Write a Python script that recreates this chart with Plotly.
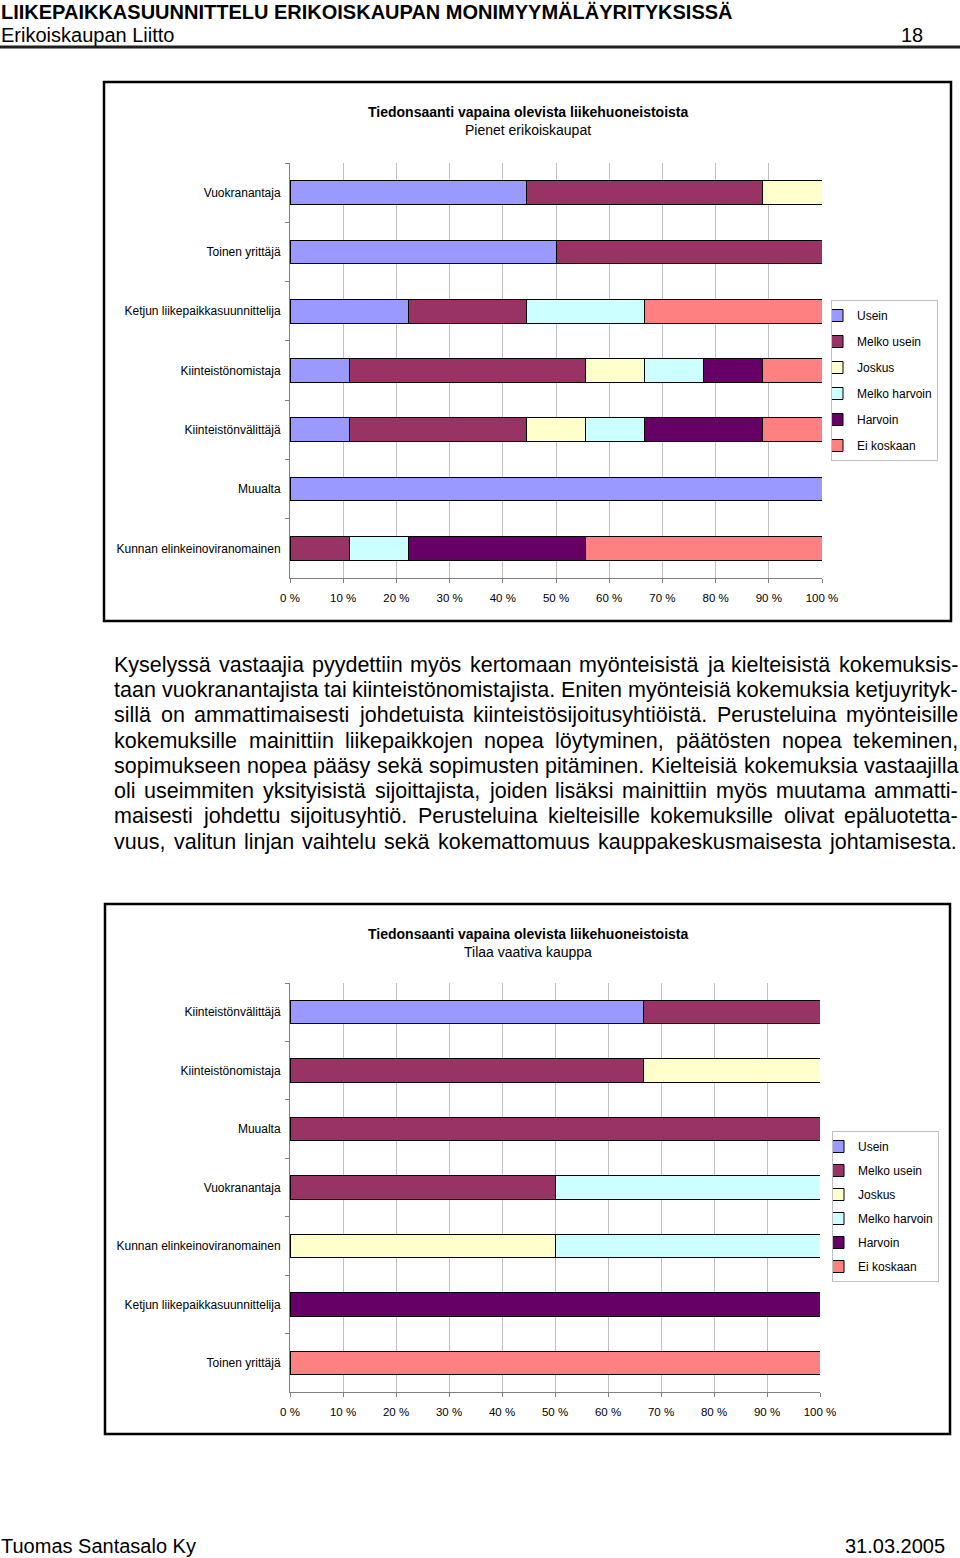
import plotly.graph_objects as go

W, H = 960, 1558

# ---------------- data ----------------
series_names = ["Usein", "Melko usein", "Joskus", "Melko harvoin", "Harvoin", "Ei koskaan"]
series_colors = ["#9999FF", "#993366", "#FFFFCC", "#CCFFFF", "#660066", "#FF8080"]

categories_1 = ["Vuokranantaja", "Toinen yrittäjä", "Ketjun liikepaikkasuunnittelija",
                "Kiinteistönomistaja", "Kiinteistönvälittäjä", "Muualta",
                "Kunnan elinkeinoviranomainen"]
usein_1         = [44.4, 50.0, 22.2, 11.1, 11.1, 100.0, 0]
melko_usein_1   = [44.5, 50.0, 22.2, 44.5, 33.3, 0, 11.1]
joskus_1        = [11.1, 0, 0, 11.1, 11.1, 0, 0]
melko_harvoin_1 = [0, 0, 22.2, 11.1, 11.1, 0, 11.1]
harvoin_1       = [0, 0, 0, 11.1, 22.3, 0, 33.3]
ei_koskaan_1    = [0, 0, 33.4, 11.1, 11.1, 0, 44.5]

categories_2 = ["Kiinteistönvälittäjä", "Kiinteistönomistaja", "Muualta", "Vuokranantaja",
                "Kunnan elinkeinoviranomainen", "Ketjun liikepaikkasuunnittelija",
                "Toinen yrittäjä"]
usein_2         = [66.7, 0, 0, 0, 0, 0, 0]
melko_usein_2   = [33.3, 66.7, 100.0, 50.0, 0, 0, 0]
joskus_2        = [0, 33.3, 0, 0, 50.0, 0, 0]
melko_harvoin_2 = [0, 0, 0, 50.0, 50.0, 0, 0]
harvoin_2       = [0, 0, 0, 0, 0, 100.0, 0]
ei_koskaan_2    = [0, 0, 0, 0, 0, 0, 100.0]

tick_values = [0, 10, 20, 30, 40, 50, 60, 70, 80, 90, 100]
tick_labels = ["0 %", "10 %", "20 %", "30 %", "40 %", "50 %", "60 %", "70 %", "80 %", "90 %", "100 %"]

header_title = "LIIKEPAIKKASUUNNITTELU ERIKOISKAUPAN MONIMYYMÄLÄYRITYKSISSÄ"
header_sub = "Erikoiskaupan Liitto"
page_number = "18"
chart_title = "Tiedonsaanti vapaina olevista liikehuoneistoista"
chart1_sub = "Pienet erikoiskaupat"
chart2_sub = "Tilaa vaativa kauppa"
footer_left = "Tuomas Santasalo Ky"
footer_right = "31.03.2005"
paragraph_lines = [
    "Kyselyssä vastaajia pyydettiin myös kertomaan myönteisistä ja kielteisistä kokemuksis-",
    "taan vuokranantajista tai kiinteistönomistajista. Eniten myönteisiä kokemuksia ketjuyrityk-",
    "sillä on ammattimaisesti johdetuista kiinteistösijoitusyhtiöistä. Perusteluina myönteisille",
    "kokemuksille mainittiin liikepaikkojen nopea löytyminen, päätösten nopea tekeminen,",
    "sopimukseen nopea pääsy sekä sopimusten pitäminen. Kielteisiä kokemuksia vastaajilla",
    "oli useimmiten yksityisistä sijoittajista, joiden lisäksi mainittiin myös muutama ammatti-",
    "maisesti johdettu sijoitusyhtiö. Perusteluina kielteisille kokemuksille olivat epäluotetta-",
    "vuus, valitun linjan vaihtelu sekä kokemattomuus kauppakeskusmaisesta johtamisesta.",
]

# ---------------- helpers ----------------
def px(x):
    return x / W


def py(y):
    return 1 - y / H


FONT = "Liberation Sans, Arial, sans-serif"

# Arial / Liberation Sans advance widths (per 1000 em) used to justify the paragraph
ARIAL_W = {" ": 278, ",": 278, ".": 278, "-": 333,
           "a": 556, "b": 556, "c": 500, "d": 556, "e": 556, "f": 278, "g": 556, "h": 556,
           "i": 222, "j": 222, "k": 500, "l": 222, "m": 833, "n": 556, "o": 556, "p": 556,
           "q": 556, "r": 333, "s": 500, "t": 278, "u": 556, "v": 500, "w": 722, "x": 500,
           "y": 500, "z": 500, "ä": 556, "ö": 556, "E": 667, "K": 667, "P": 667, "T": 611}


def text_width(s, size):
    return sum(ARIAL_W.get(c, 556) for c in s) * size / 1000.0


values_1 = [usein_1, melko_usein_1, joskus_1, melko_harvoin_1, harvoin_1, ei_koskaan_1]
values_2 = [usein_2, melko_usein_2, joskus_2, melko_harvoin_2, harvoin_2, ei_koskaan_2]

fig = go.Figure()
for name, color, vals in zip(series_names, series_colors, values_1):
    fig.add_trace(go.Bar(
        y=categories_1, x=[v if v else None for v in vals], orientation="h",
        name=name, marker=dict(color=color, line=dict(color="black", width=1)),
        xaxis="x", yaxis="y", legend="legend", legendgroup=name + "_1",
        hoverinfo="skip"))
for name, color, vals in zip(series_names, series_colors, values_2):
    fig.add_trace(go.Bar(
        y=categories_2, x=[v if v else None for v in vals], orientation="h",
        name=name, marker=dict(color=color, line=dict(color="black", width=1)),
        xaxis="x2", yaxis="y2", legend="legend2", legendgroup=name + "_2",
        hoverinfo="skip"))

xaxis_common = dict(range=[0, 100], tickvals=tick_values, ticktext=tick_labels,
                    showgrid=True, gridcolor="#C0C0C0", gridwidth=1,
                    showline=True, linecolor="#808080", linewidth=1,
                    ticks="outside", ticklen=4, tickcolor="#808080",
                    tickfont=dict(family=FONT, size=11.5, color="black"),
                    zeroline=False, fixedrange=True, ticklabelstandoff=5,
                    automargin=False)
yaxis_common = dict(type="category", autorange="reversed", showgrid=False,
                    showline=True, linecolor="#808080", linewidth=1,
                    ticks="outside", ticklen=4, tickcolor="#808080", tickson="boundaries",
                    tickfont=dict(family=FONT, size=12, color="black"),
                    zeroline=False, fixedrange=True, ticklabelstandoff=6,
                    automargin=False)

legend_common = dict(bgcolor="white", bordercolor="#C0C0C0", borderwidth=1,
                     font=dict(family=FONT, size=12, color="black"),
                     traceorder="grouped", xanchor="left", yanchor="top",
                     itemclick=False, itemdoubleclick=False, indentation=-15)

annotations = []


def add_text(text, x, y, size, bold=False, xanchor="left", yanchor="middle"):
    annotations.append(dict(
        text=("<b>%s</b>" % text) if bold else text, x=px(x), y=py(y),
        xref="paper", yref="paper", xanchor=xanchor, yanchor=yanchor,
        showarrow=False, font=dict(family=FONT, size=size, color="black")))


add_text(header_title, -1, 12, 20, bold=True)
add_text(header_sub, -1, 35, 20)
add_text(page_number, 925, 35, 20, xanchor="right")
add_text(chart_title, 528, 112, 14, bold=True, xanchor="center")
add_text(chart1_sub, 528, 130, 14, xanchor="center")
add_text(chart_title, 528, 934, 14, bold=True, xanchor="center")
add_text(chart2_sub, 528, 952, 14, xanchor="center")

# justified paragraph: each word placed so that the line spans the text block
PARA_SIZE = 21.5
PARA_LEFT = 113
line_ys = [665, 690, 715, 741, 766, 791, 816, 842]
line_rights = [957, 957, 957, 957, 957, 957, 957, 955]
for line, yy, right in zip(paragraph_lines, line_ys, line_rights):
    words = line.split(" ")
    widths = [text_width(w, PARA_SIZE) for w in words]
    gap = (right - PARA_LEFT - sum(widths)) / (len(words) - 1)
    xx = PARA_LEFT
    for w, ww in zip(words, widths):
        annotations.append(dict(
            text=w, x=px(xx), y=py(yy), xref="paper", yref="paper",
            xanchor="left", yanchor="middle", showarrow=False,
            borderpad=0, font=dict(family=FONT, size=PARA_SIZE, color="black")))
        xx += ww + gap

add_text(footer_left, -1, 1546, 20)
add_text(footer_right, 947, 1546, 20, xanchor="right")

shapes = [
    dict(type="line", xref="paper", yref="paper", x0=0, x1=1, y0=py(47), y1=py(47),
         line=dict(color="#202020", width=3)),
    dict(type="rect", xref="paper", yref="paper", x0=px(104), x1=px(951), y0=py(82), y1=py(621),
         line=dict(color="black", width=2.5)),
    dict(type="rect", xref="paper", yref="paper", x0=px(105), x1=px(950), y0=py(904), y1=py(1434),
         line=dict(color="black", width=2.5)),
]

fig.update_layout(
    width=W, height=H, margin=dict(l=0, r=0, t=0, b=0, pad=0, autoexpand=False),
    paper_bgcolor="white", plot_bgcolor="white",
    barmode="stack", bargap=0.6,
    font=dict(family=FONT, color="black"),
    xaxis=dict(domain=[px(290), px(822)], anchor="y", **xaxis_common),
    yaxis=dict(domain=[py(578), py(163)], anchor="x", **yaxis_common),
    xaxis2=dict(domain=[px(290), px(820)], anchor="y2", **xaxis_common),
    yaxis2=dict(domain=[py(1392), py(983)], anchor="x2", **yaxis_common),
    legend=dict(x=px(831), y=py(300), tracegroupgap=7, **legend_common),
    legend2=dict(x=px(832), y=py(1131), tracegroupgap=5, **legend_common),
    annotations=annotations, shapes=shapes,
)

fig.write_html("out.html", config={"displayModeBar": False},
               post_script="document.body.style.margin='0';")
